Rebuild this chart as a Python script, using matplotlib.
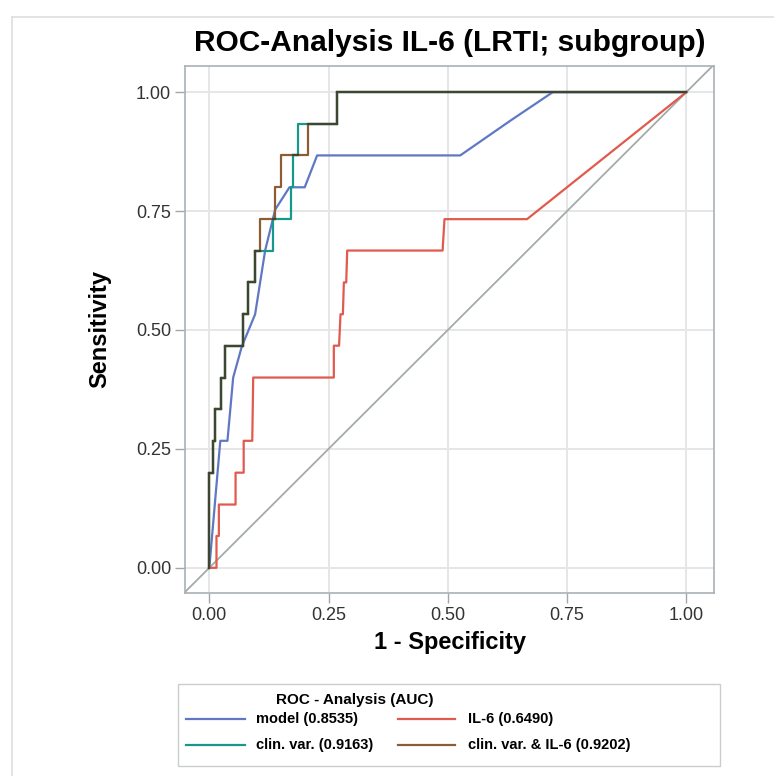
import numpy as np
import matplotlib
matplotlib.use("Agg")
import matplotlib.pyplot as plt
from matplotlib.lines import Line2D
from matplotlib.patches import Rectangle

plt.rcParams['font.family'] = ['Liberation Sans', 'DejaVu Sans']

# ROC curves (1 - specificity, sensitivity)
fpr_model = [0, 0.023, 0.038, 0.05, 0.068, 0.096, 0.117, 0.138, 0.168, 0.2, 0.226, 0.526, 0.631, 0.72, 1.0]
tpr_model = [0, 0.267, 0.267, 0.4, 0.465, 0.533, 0.667, 0.753, 0.8, 0.8, 0.867, 0.867, 0.94, 1.0, 1.0]

fpr_il6 = [0, 0.015, 0.015, 0.02, 0.02, 0.055, 0.055, 0.072, 0.072, 0.09, 0.092, 0.261, 0.261, 0.272,
           0.275, 0.28, 0.282, 0.287, 0.289, 0.489, 0.493, 0.666, 1.0]
tpr_il6 = [0, 0, 0.067, 0.067, 0.133, 0.133, 0.2, 0.2, 0.267, 0.267, 0.4, 0.4, 0.467, 0.467,
           0.533, 0.533, 0.6, 0.6, 0.667, 0.667, 0.733, 0.733, 1.0]

fpr_clin = [0, 0, 0.007, 0.007, 0.011, 0.011, 0.025, 0.025, 0.032, 0.032, 0.07, 0.07, 0.082, 0.082,
            0.096, 0.096, 0.133, 0.133, 0.172, 0.172, 0.176, 0.176, 0.186, 0.186, 0.267, 0.267, 1.0]
tpr_clin = [0, 0.2, 0.2, 0.267, 0.267, 0.333, 0.333, 0.4, 0.4, 0.467, 0.467, 0.533, 0.533, 0.6,
            0.6, 0.667, 0.667, 0.733, 0.733, 0.8, 0.8, 0.867, 0.867, 0.933, 0.933, 1.0, 1.0]

fpr_comb = [0, 0, 0.007, 0.007, 0.011, 0.011, 0.025, 0.025, 0.032, 0.032, 0.07, 0.07, 0.082, 0.082,
            0.096, 0.096, 0.107, 0.107, 0.138, 0.138, 0.151, 0.151, 0.206, 0.206, 0.267, 0.267, 1.0]
tpr_comb = [0, 0.2, 0.2, 0.267, 0.267, 0.333, 0.333, 0.4, 0.4, 0.467, 0.467, 0.533, 0.533, 0.6,
            0.6, 0.667, 0.667, 0.733, 0.733, 0.8, 0.8, 0.867, 0.867, 0.933, 0.933, 1.0, 1.0]

labels = ["model (0.8535)", "IL-6 (0.6490)", "clin. var. (0.9163)", "clin. var. & IL-6 (0.9202)"]
ticks = [0, 0.25, 0.5, 0.75, 1.0]
tick_labels = ["0.00", "0.25", "0.50", "0.75", "1.00"]

c_model = "#6078c4"
c_il6 = "#e05a4e"
c_clin = "#18988a"
c_comb = "#8e5c32"
c_both = "#3c4630"

W, H = 774, 776


def shared_segments(xa, ya, xb, yb, tol=1e-9):
    # pieces where the two step curves run on top of each other
    out = []
    for i in range(len(xa) - 1):
        x0, y0, x1, y1 = xa[i], ya[i], xa[i + 1], ya[i + 1]
        for j in range(len(xb) - 1):
            u0, v0, u1, v1 = xb[j], yb[j], xb[j + 1], yb[j + 1]
            if abs(y0 - y1) < tol and abs(v0 - v1) < tol and abs(y0 - v0) < tol:
                lo = max(min(x0, x1), min(u0, u1))
                hi = min(max(x0, x1), max(u0, u1))
                if hi > lo:
                    out.append(([lo, hi], [y0, y0]))
            elif abs(x0 - x1) < tol and abs(u0 - u1) < tol and abs(x0 - u0) < tol:
                lo = max(min(y0, y1), min(v0, v1))
                hi = min(max(y0, y1), max(v0, v1))
                if hi > lo:
                    out.append(([x0, x0], [lo, hi]))
    return out


fig = plt.figure(figsize=(W / 100, H / 100), dpi=100)
ax = fig.add_axes([185 / W, 1 - 593 / H, 529 / W, 527 / H])

ax.set_xlim(-0.051, 1.058)
ax.set_ylim(-0.053, 1.055)
ax.plot([-0.051, 1.058], [-0.051, 1.058], color="#a3abab", lw=1.3, zorder=2)

lw = 1.6
l_model, = ax.plot(fpr_model, tpr_model, color=c_model, lw=lw, zorder=3)
l_il6, = ax.plot(fpr_il6, tpr_il6, color=c_il6, lw=lw, zorder=3)
l_clin, = ax.plot(fpr_clin, tpr_clin, color=c_clin, lw=lw, zorder=4)
l_comb, = ax.plot(fpr_comb, tpr_comb, color=c_comb, lw=lw, zorder=5)
for sx, sy in shared_segments(fpr_clin, tpr_clin, fpr_comb, tpr_comb):
    ax.plot(sx, sy, color=c_both, lw=lw, zorder=6, solid_capstyle="projecting")

ax.set_xticks(ticks)
ax.set_xticklabels(tick_labels)
ax.set_yticks(ticks)
ax.set_yticklabels(tick_labels)
ax.grid(True, color="#e6e6e6", lw=1.4)
ax.set_axisbelow(True)
ax.tick_params(direction="out", length=7, width=1, color="#a0a8ae", labelsize=13,
               labelcolor="#333333", pad=3)
for sp in ax.spines.values():
    sp.set_color("#a9b1b6")
    sp.set_linewidth(1.2)

ax.set_title("ROC-Analysis IL-6 (LRTI; subgroup)", fontsize=21.5, fontweight="bold", pad=11)
ax.set_xlabel("1 - Specificity", fontsize=17, fontweight="bold", labelpad=5)
ax.set_ylabel("Sensitivity", fontsize=17, fontweight="bold", labelpad=18)

# outer panel border (top and left)
fig.add_artist(Line2D([12 / W, 1.0], [1 - 17 / H, 1 - 17 / H], transform=fig.transFigure,
                      color="#dcdfdf", lw=1.2))
fig.add_artist(Line2D([12 / W, 12 / W], [0, 1 - 17 / H], transform=fig.transFigure,
                      color="#dcdfdf", lw=1.2))

# legend box, two columns
fig.add_artist(Rectangle((178 / W, 1 - 766 / H), 542 / W, 82 / H, transform=fig.transFigure,
                         fill=False, edgecolor="#c9cdcd", lw=1))
fig.text(355 / W, 1 - 700 / H, "ROC - Analysis (AUC)", ha="center", va="center",
         fontsize=11, fontweight="bold")
entries = [(l_model, labels[0], 0, 0), (l_clin, labels[2], 0, 1),
           (l_il6, labels[1], 1, 0), (l_comb, labels[3], 1, 1)]
col_line = [(186, 245), (398, 455)]
col_text = [256, 468]
row_y = [719, 745]
for handle, text, col, row in entries:
    y = 1 - row_y[row] / H
    x0, x1 = col_line[col]
    fig.add_artist(Line2D([x0 / W, x1 / W], [y, y], transform=fig.transFigure,
                          color=handle.get_color(), lw=lw))
    fig.text(col_text[col] / W, y, text, ha="left", va="center", fontsize=10.5, fontweight="bold")

fig.savefig("out.png", dpi=100)
